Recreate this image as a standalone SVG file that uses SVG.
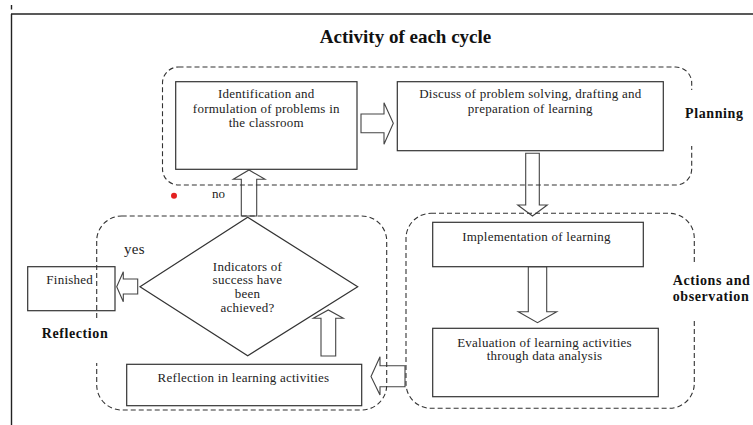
<svg xmlns="http://www.w3.org/2000/svg" width="753" height="425" viewBox="0 0 753 425">
<style>
.t{font-family:"Liberation Serif","Times New Roman",serif;font-size:13px;letter-spacing:0.25px;fill:#222;text-anchor:middle}
.lbl{font-family:"Liberation Serif","Times New Roman",serif;font-size:14px;font-weight:bold;letter-spacing:0.6px;fill:#111}
.grp{fill:none;stroke:#333;stroke-width:1.1;stroke-dasharray:5,3}
.box{fill:#fff;stroke:#333;stroke-width:1.2}
.arr{fill:#fff;stroke:#444;stroke-width:1.1;stroke-linejoin:miter}
.wb{fill:#fff;stroke:none}
</style>
<rect width="753" height="425" fill="#fff"/>
<g id="frame" stroke="#222" stroke-width="1.4">
<line x1="11" y1="14" x2="753" y2="14"/>
<line x1="11.5" y1="14" x2="11.5" y2="425"/>
<line x1="11.5" y1="5" x2="11.5" y2="9.5"/>
</g>
<text x="405.5" y="43.3" font-family="Liberation Serif,Times New Roman,serif" font-size="19" font-weight="bold" fill="#111" text-anchor="middle">Activity of each cycle</text>
<g id="connectors">
<polygon class="arr" points="361,114 384,114 384,102.7 393.3,123.3 384,144.3 384,132.7 361,132.7"/>
<polygon class="arr" points="525.7,153.3 539.3,153.3 539.3,205 547.3,205 532.5,216 517.7,205 525.7,205"/>
<polygon class="arr" points="528.3,266.7 546.7,266.7 546.7,311.7 556.7,311.7 537.5,322.7 518.3,311.7 528.3,311.7"/>
<polygon class="arr" points="405,365.7 380,365.7 380,356.7 371,376.5 380,395 380,386.7 405,386.7"/>
<polygon class="arr" points="321,356 321,318.3 313.3,318.3 328.3,310 343.3,318.3 335.7,318.3 335.7,356"/>
<polygon class="arr" points="137.7,279 123.3,279 123.3,271.7 116.7,286.7 123.3,301.7 123.3,294 137.7,294"/>
<polygon class="arr" points="241.3,216 241.3,179.3 233.3,179.3 249,170 265,179.3 256.7,179.3 256.7,216"/>
</g>
<g id="planning">
<rect class="grp" x="162.5" y="67" width="529.2" height="118" rx="16"/>
<rect class="wb" x="682" y="90" width="71" height="56"/>
<text class="lbl" x="685" y="117.7">Planning</text>
</g>
<g id="actions">
<rect class="grp" x="406" y="213.3" width="288.3" height="195" rx="25"/>
<rect class="wb" x="670" y="263" width="83" height="57"/>
<text class="lbl" x="672.7" y="285">Actions and</text>
<text class="lbl" x="672.7" y="301">observation</text>
</g>
<g id="reflection">
<rect class="grp" x="96.7" y="216" width="290" height="194" rx="25"/>
<rect class="wb" x="38" y="318" width="76" height="45"/>
<text class="lbl" x="41.7" y="338.3">Reflection</text>
</g>
<g id="identification">
<rect class="box" x="175.7" y="81.7" width="181.3" height="87.6"/>
<text class="t" x="266.3" y="98">Identification and</text>
<text class="t" x="266.3" y="112.5">formulation of problems in</text>
<text class="t" x="266.3" y="127">the classroom</text>
</g>
<g id="discuss">
<rect class="box" x="397.3" y="81.7" width="266" height="69"/>
<text class="t" x="530.3" y="98">Discuss of problem solving, drafting and</text>
<text class="t" x="530.3" y="112.7">preparation of learning</text>
</g>
<g id="implementation">
<rect class="box" x="432.7" y="222.3" width="210.6" height="44.4"/>
<text class="t" x="536.5" y="240.7">Implementation of learning</text>
</g>
<g id="evaluation">
<rect class="box" x="432.7" y="328.3" width="225.6" height="68.4"/>
<text class="t" x="544.5" y="346.7">Evaluation of learning activities</text>
<text class="t" x="544.5" y="360.2">through data analysis</text>
</g>
<g id="reflection-activities">
<rect class="box" x="126.7" y="364.3" width="235" height="41.4"/>
<text class="t" x="243.5" y="382.3">Reflection in learning activities</text>
</g>
<g id="decision">
<polygon class="box" points="247.7,217.3 357.7,286.7 247.7,355.7 140,286.7"/>
<text class="t" x="247.5" y="270.7">Indicators of</text>
<text class="t" x="247.5" y="284.4">success have</text>
<text class="t" x="247.5" y="298.3">been</text>
<text class="t" x="247.5" y="311.8">achieved?</text>
</g>
<g id="finished">
<rect x="27.7" y="266.7" width="87.3" height="44" fill="none" stroke="#333" stroke-width="1.2"/>
<text class="t" x="69.7" y="284">Finished</text>
</g>
<text x="124" y="254" font-family="Liberation Serif,Times New Roman,serif" font-size="15" letter-spacing="0.3" fill="#222">yes</text>
<text x="212" y="198.3" font-family="Liberation Serif,Times New Roman,serif" font-size="13" fill="#222">no</text>
<circle cx="174" cy="195.7" r="3" fill="#e32020"/>
</svg>
